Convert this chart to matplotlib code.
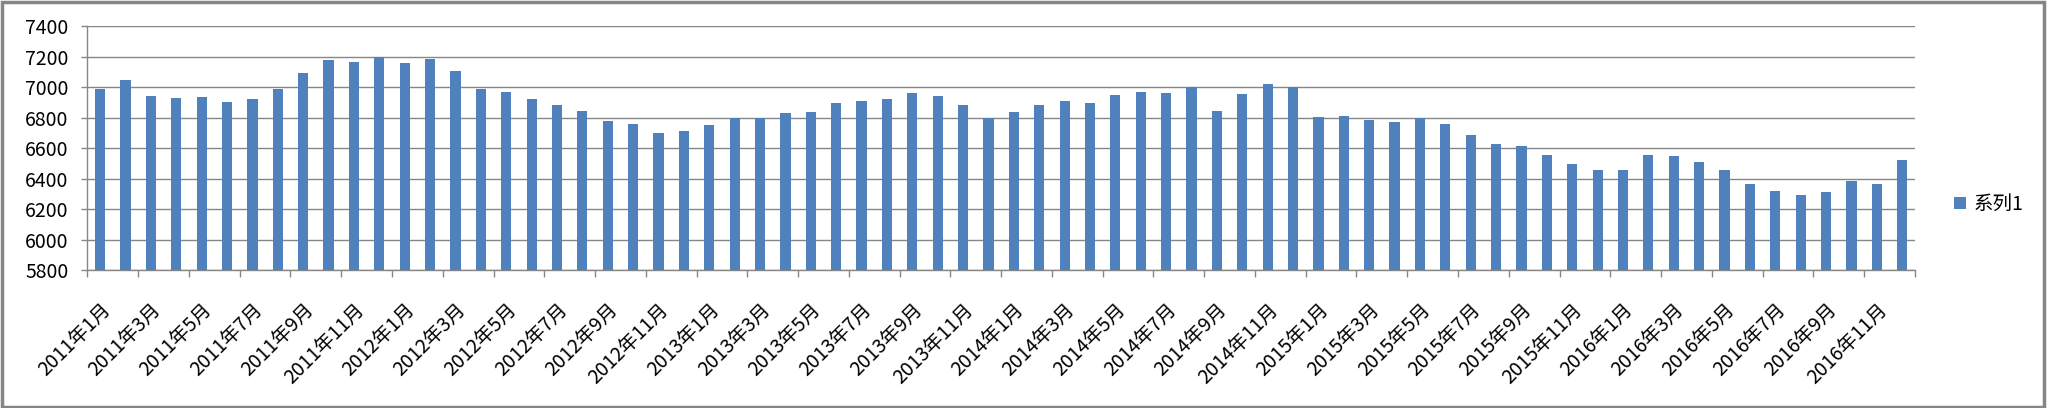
import matplotlib
matplotlib.use("Agg")
import matplotlib.pyplot as plt
from matplotlib.patches import Rectangle

plt.rcParams['font.family'] = ['Noto Sans CJK SC', 'DejaVu Sans']

# monthly values, 2011-01 .. 2016-12
years = [2011, 2012, 2013, 2014, 2015, 2016]
values = [
    6990, 7048, 6943, 6930, 6937, 6904, 6924, 6989, 7093, 7178, 7165, 7198,
    7159, 7185, 7107, 6989, 6970, 6924, 6885, 6846, 6780, 6761, 6696, 6709,
    6754, 6798, 6798, 6833, 6839, 6898, 6911, 6924, 6963, 6943, 6885, 6798,
    6839, 6885, 6911, 6898, 6950, 6970, 6963, 7000, 6846, 6957, 7022, 7000,
    6807, 6813, 6787, 6774, 6798, 6761, 6689, 6624, 6611, 6552, 6493, 6454,
    6454, 6552, 6546, 6507, 6454, 6363, 6317, 6291, 6311, 6383, 6363, 6520,
]
labels = ["%d年%d月" % (y, m) for y in years for m in range(1, 13)]
seriesName = "系列1"

barColor = "#4F81BD"
gridColor = "#868686"

fig = plt.figure(figsize=(20.48, 4.08), dpi=100)
ax = fig.add_axes([0.0427, 0.338, 0.8923, 0.598])

x = list(range(len(values)))
ax.bar(x, values, width=0.4, color=barColor, label=seriesName, zorder=3)

ax.set_ylim(5800, 7400)
ax.set_yticks(range(5800, 7401, 200))
ax.set_xlim(-0.5, len(values) - 0.5)
ax.grid(axis='y', color=gridColor, linewidth=1.0, zorder=0)

# labels every 2 months, tick marks on category boundaries
ax.set_xticks(x[::2])
ax.set_xticklabels(labels[::2], rotation=45, ha='right', va='top',
                   rotation_mode='anchor', fontsize=14)
ax.tick_params(axis='x', length=0, pad=21)
ax.set_xticks([i - 0.5 for i in range(0, len(values) + 1, 2)], minor=True)
ax.tick_params(axis='x', which='minor', length=5, color=gridColor, width=1)
ax.tick_params(axis='y', length=4.5, color=gridColor, width=1, labelsize=14, pad=9)

for side in ['top', 'right']:
    ax.spines[side].set_visible(False)
for side in ['left', 'bottom']:
    ax.spines[side].set_color(gridColor)
    ax.spines[side].set_linewidth(1.0)

ax.legend(loc='center left', bbox_to_anchor=(1.012, 0.27), frameon=False,
          fontsize=14, handlelength=0.6, handleheight=0.6, handletextpad=0.4)

# outer chart border
fig.patches.append(Rectangle((0.001, 0.003), 0.997, 0.993, transform=fig.transFigure,
                             fill=False, edgecolor=gridColor, linewidth=2.5))

fig.savefig("out.png", dpi=100)
